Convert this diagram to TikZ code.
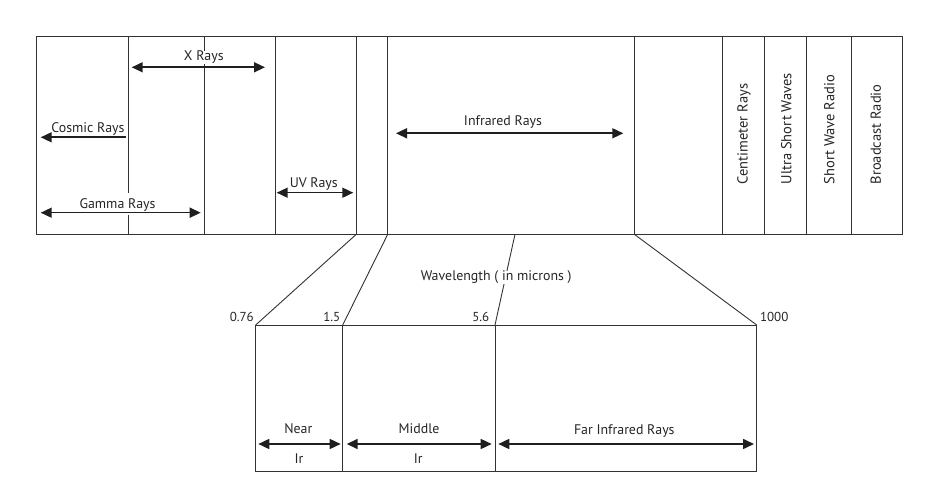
\documentclass[tikz,border=0pt]{standalone}
\usepackage{fontspec}
\setmainfont{PT Sans}
\usetikzlibrary{arrows.meta}
\begin{document}
\begin{tikzpicture}[x=1pt,y=-1pt,
  edge/.style={line width=0.9pt, draw=black!80},
  tipx/.tip={Triangle[length=11pt,width=10pt]},
  dbl/.style={line width=1.6pt, draw=black!88, {tipx}-{tipx}},
  sgl/.style={line width=1.6pt, draw=black!88, -{tipx}},
  lbl/.style={font=\fontsize{13.9}{16}\selectfont, inner sep=0.5pt, text=black!85},
  wlbl/.style={lbl, fill=white},
  num/.style={font=\fontsize{13}{15}\selectfont, inner sep=0.5pt, text=black!85},
  vlbl/.style={lbl, font=\fontsize{14.5}{16}\selectfont, rotate=90, anchor=west}]
\useasboundingbox[fill=white] (0,0) rectangle (935,502);

% ---- top band ----
\coordinate (TL) at (36.7,36.7);
\coordinate (BR) at (902.7,234.3);
\draw[edge] (TL) rectangle (BR);
\foreach \n/\x in {b2/204.3,b3/275.3,b4/356.3,b5/387.7,b6/634.3,b7/722.7,b8/764.3,b9/806,b10/851.7}{
  \coordinate (\n t) at (\x,36.7);
  \coordinate (\n b) at (\x,234.3);
  \draw[edge] (\n t) -- (\n b);
}
\coordinate (b1t) at (128.3,36.7);
\coordinate (b1m) at (128.3,193.3);
\coordinate (b1n) at (128.3,215);
\coordinate (b1b) at (128.3,234.3);
\draw[edge] (b1t) -- (b1m);
\draw[edge] (b1n) -- (b1b);

% ---- bottom band ----
\coordinate (LT) at (255.7,325);
\coordinate (LB) at (756.7,471.7);
\coordinate (RT) at (756.7,325);
\draw[edge] (LT) rectangle (LB);
\coordinate (d1t) at (342.7,325);
\coordinate (d1b) at (342.7,471.7);
\coordinate (d2t) at (495,325);
\coordinate (d2b) at (495,471.7);
\draw[edge] (d1t) -- (d1b);
\draw[edge] (d2t) -- (d2b);

% ---- zoom lines ----
\coordinate (w1) at (515,234.3);
\draw[edge] (b4b) -- (LT);
\draw[edge] (b5b) -- (d1t);
\draw[edge] (w1) -- (d2t);
\draw[edge] (b6b) -- (RT);

% ---- arrows ----
\coordinate (xa) at (131.7,67.3);   \coordinate (xb) at (265,67.3);
\coordinate (ca) at (126,137.3);    \coordinate (cb) at (40.7,137.3);
\coordinate (ga) at (40.7,212.7);   \coordinate (gb) at (200.7,212.7);
\coordinate (ua) at (276.7,192.7);  \coordinate (ub) at (353.3,192.7);
\coordinate (ia) at (396,133.3);    \coordinate (ib) at (623.3,133.3);
\coordinate (na) at (258.3,444);    \coordinate (nb) at (340.7,444);
\coordinate (ma) at (346.7,444);    \coordinate (mb) at (491.7,444);
\coordinate (fa) at (498.3,444);    \coordinate (fb) at (754,444);
\draw[dbl] (xa) -- (xb);
\draw[sgl] (ca) -- (cb);
\draw[dbl] (ga) -- (gb);
\draw[dbl] (ua) -- (ub);
\draw[dbl] (ia) -- (ib);
\draw[dbl] (na) -- (nb);
\draw[dbl] (ma) -- (mb);
\draw[dbl] (fa) -- (fb);

% ---- labels ----
\node[wlbl] (lx) at (203.8,57.5) {X Rays};
\node[lbl] (lc) at (88,128.7) {Cosmic Rays};
\node[lbl] (lg) at (117.5,204.7) {Gamma Rays};
\node[lbl] (lu) at (313.8,184.2) {UV Rays};
\node[lbl] (li) at (503,121.7) {Infrared Rays};
\node[vlbl] (lcm) at (744,185) {Centimeter Rays};
\node[vlbl] (lus) at (786.2,185) {Ultra Short Waves};
\node[vlbl] (lsw) at (829.2,185) {Short Wave Radio};
\node[vlbl] (lbr) at (875.8,185) {Broadcast Radio};
\node[wlbl] (lw) at (496.2,277.5) {Wavelength ( in microns )};
\node[num, anchor=east] (n1) at (254.5,316.7) {0.76};
\node[num, anchor=east] (n2) at (341,316.7) {1.5};
\node[num, anchor=east] (n3) at (490,316.7) {5.6};
\node[num, anchor=west] (n4) at (759.3,316.7) {1000};
\node[lbl] (ln) at (298.3,429) {Near};
\node[lbl] (ln2) at (299,458.7) {Ir};
\node[lbl] (lm) at (419,428.7) {Middle};
\node[lbl] (lm2) at (418.3,458.7) {Ir};
\node[lbl] (lf) at (624.3,430.8) {Far Infrared Rays};
\end{tikzpicture}
\end{document}
